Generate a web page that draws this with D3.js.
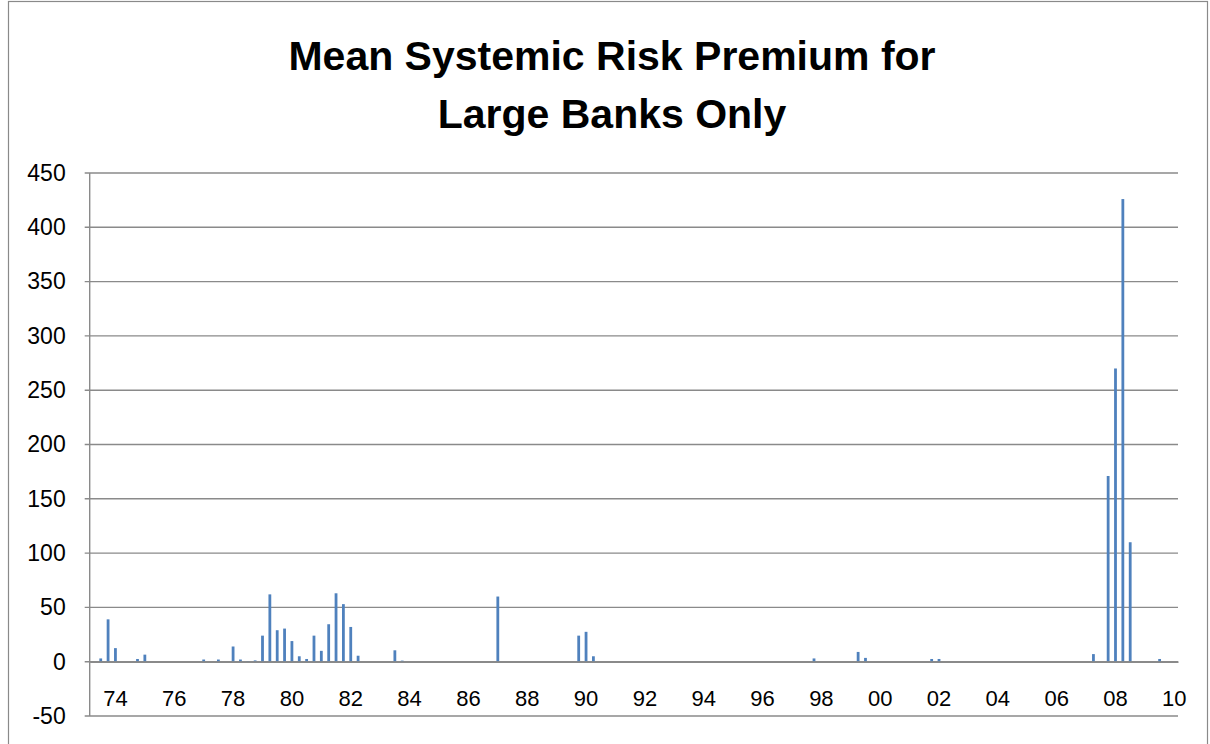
<!DOCTYPE html>
<html>
<head>
<meta charset="utf-8">
<script src="https://cdn.jsdelivr.net/npm/d3@7/dist/d3.min.js"></script>
<style>
  html, body { margin: 0; padding: 0; background: #fff; }
  svg { display: block; }
</style>
</head>
<body>
<svg id="chart" width="1210" height="744"></svg>
<script>
// Quarterly series, 1973 Q2 through 2010 Q1 (one row per calendar year)
const startYear = 1973, startQuarter = 2;
const premium = [
  /*1973*/ 0, 3, 39,
  /*1974*/ 12.5, 0, 0, 2.5,
  /*1975*/ 6.5, 0, 0, 0,
  /*1976*/ 0, 0, 0, 0,
  /*1977*/ 2, 0, 2, 0,
  /*1978*/ 14, 2, 0.5, 1.2,
  /*1979*/ 24, 62, 29, 30.5,
  /*1980*/ 19, 5, 2.5, 24,
  /*1981*/ 10, 34.5, 63, 53,
  /*1982*/ 32, 5.5, 0, 0,
  /*1983*/ 0, 0, 10.5, 1,
  /*1984*/ 0, 0, 0, 0,
  /*1985*/ 0, 0, 0, 0,
  /*1986*/ 0, 0, 0, 0,
  /*1987*/ 60, 0, 0, 0,
  /*1988*/ 0, 0, 0, 0,
  /*1989*/ 0, 0, 0, 24,
  /*1990*/ 27.5, 5, 0, 0,
  /*1991*/ 0, 0, 0, 0,
  /*1992*/ 0, 0, 0, 0,
  /*1993*/ 0, 0, 0, 0,
  /*1994*/ 0, 0, 0, 0,
  /*1995*/ 0, 0, 0, 0,
  /*1996*/ 0, 0, 0, 0,
  /*1997*/ 0, 0, 0, 3,
  /*1998*/ 0, 0, 0, 0,
  /*1999*/ 0, 9, 3.5, 0,
  /*2000*/ 0, 0, 0, 0,
  /*2001*/ 0, 0, 0, 2.5,
  /*2002*/ 2.5, 0, 0, 0,
  /*2003*/ 0, 0, 0, 0,
  /*2004*/ 0, 0, 0, 0,
  /*2005*/ 0, 0, 0, 0,
  /*2006*/ 0, 0, 0, 0,
  /*2007*/ 0, 7, 0, 171,
  /*2008*/ 270, 426, 110, 0,
  /*2009*/ 0, 0, 2.5, 0,
  /*2010*/ 0
];

// Category keys like "1974Q1"
const quarters = premium.map((_, i) => {
  const q = startQuarter - 1 + i;
  return `${startYear + Math.floor(q / 4)}Q${(q % 4) + 1}`;
});

// Year labels shown under the first quarter of every other year
const xTickKeys = ["1974Q1","1976Q1","1978Q1","1980Q1","1982Q1","1984Q1","1986Q1","1988Q1","1990Q1",
                   "1992Q1","1994Q1","1996Q1","1998Q1","2000Q1","2002Q1","2004Q1","2006Q1","2008Q1","2010Q1"];
const xTickLabels = ["74","76","78","80","82","84","86","88","90","92","94","96","98","00","02","04","06","08","10"];
const yTicks = [-50, 0, 50, 100, 150, 200, 250, 300, 350, 400, 450];

const titleLines = ["Mean Systemic Risk Premium for", "Large Banks Only"];

const svg = d3.select("#chart");
const plot = { left: 89.7, right: 1178, top: 173, bottom: 716 };
const gridColor = "#8a8a8a";
const barColor = "#4f81bd";
const font = "'Liberation Sans', Arial, sans-serif";

// Outer chart border
svg.append("rect")
  .attr("x", 8.5).attr("y", 1.5)
  .attr("width", 1199).attr("height", 780)
  .attr("fill", "#fff").attr("stroke", "#8a8a8a").attr("stroke-width", 1.2);

const x = d3.scaleBand().domain(quarters).range([plot.left, plot.right]).paddingInner(0.62).paddingOuter(0.31);
const y = d3.scaleLinear().domain([-50, 450]).range([plot.bottom, plot.top]);

// Horizontal gridlines
svg.append("g").selectAll("line").data(yTicks).join("line")
  .attr("x1", plot.left - 5).attr("x2", plot.right)
  .attr("y1", d => y(d)).attr("y2", d => y(d))
  .attr("stroke", gridColor).attr("stroke-width", 1.4);

// Vertical value axis line
svg.append("line")
  .attr("x1", plot.left).attr("x2", plot.left)
  .attr("y1", plot.top).attr("y2", plot.bottom)
  .attr("stroke", gridColor).attr("stroke-width", 1.4);

// Value axis labels
const yAxis = d3.axisLeft(y).tickValues(yTicks).tickFormat(d => String(d)).tickSize(0).tickPadding(0);
const yg = svg.append("g").attr("transform", `translate(${plot.left - 24},0)`).call(yAxis);
yg.select(".domain").remove();
yg.selectAll("text").attr("font-family", font).attr("font-size", 23).attr("fill", "#000");

// Bars
svg.append("g").selectAll("rect").data(premium.map((v, i) => ({ key: quarters[i], v })))
  .join("rect")
  .filter(d => d.v !== 0)
  .attr("x", d => x(d.key))
  .attr("width", x.bandwidth())
  .attr("y", d => y(Math.max(0, d.v)))
  .attr("height", d => Math.abs(y(d.v) - y(0)))
  .attr("fill", barColor);

// Category axis along zero
const xAxis = d3.axisBottom(x).tickValues(xTickKeys)
  .tickFormat(k => xTickLabels[xTickKeys.indexOf(k)])
  .tickSize(0).tickPadding(44);
const xg = svg.append("g").attr("transform", `translate(0,${y(0)})`).call(xAxis);
xg.select(".domain").attr("stroke", gridColor).attr("stroke-width", 1.8);
xg.selectAll("text").attr("font-family", font).attr("font-size", 22).attr("fill", "#000")
  .attr("dy", "0");

// Title
svg.append("g").selectAll("text").data(titleLines).join("text")
  .attr("x", 612).attr("y", (d, i) => 70 + i * 58)
  .attr("text-anchor", "middle")
  .attr("font-family", font).attr("font-weight", "bold").attr("font-size", 41)
  .attr("fill", "#000")
  .text(d => d);
</script>
</body>
</html>
